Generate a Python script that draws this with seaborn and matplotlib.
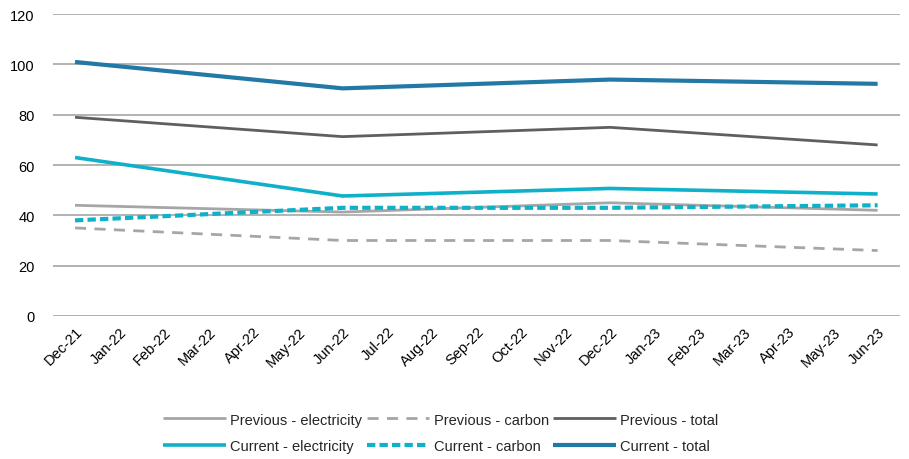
import matplotlib
matplotlib.use("Agg")
import matplotlib.pyplot as plt
import seaborn as sns
import pandas as pd

# Monthly axis labels
months = ["Dec-21", "Jan-22", "Feb-22", "Mar-22", "Apr-22", "May-22", "Jun-22",
          "Jul-22", "Aug-22", "Sep-22", "Oct-22", "Nov-22", "Dec-22", "Jan-23",
          "Feb-23", "Mar-23", "Apr-23", "May-23", "Jun-23"]

# Observations are half-yearly
obs_months = ["Dec-21", "Jun-22", "Dec-22", "Jun-23"]

prev_electricity = [44, 41.3, 45, 42]
prev_carbon = [35, 30, 30, 26]
prev_total = [79, 71.3, 75, 68]
curr_electricity = [63, 47.7, 50.7, 48.5]
curr_carbon = [38, 43, 43, 44]
curr_total = [101, 90.5, 94, 92.3]

sns.set_theme(style="white")
plt.rcParams["font.family"] = ["Liberation Sans", "DejaVu Sans"]

fig, ax = plt.subplots(figsize=(9.09, 4.60), dpi=100)
fig.subplots_adjust(left=0.058, right=0.99, top=0.967, bottom=0.311)

x_pos = [months.index(m) for m in obs_months]

series = [
    ("Previous - electricity", prev_electricity, "#A6A6A6", 2.0, None),
    ("Previous - carbon", prev_carbon, "#A6A6A6", 2.0, (4, 3)),
    ("Previous - total", prev_total, "#5F5F5F", 2.0, None),
    ("Current - electricity", curr_electricity, "#0FB1C8", 2.6, None),
    ("Current - carbon", curr_carbon, "#0FB1C8", 3.0, (2, 1)),
    ("Current - total", curr_total, "#2279A6", 3.0, None),
]

handles = {}
for name, vals, color, lw, dash in series:
    df = pd.DataFrame({"x": x_pos, "y": vals})
    sns.lineplot(data=df, x="x", y="y", ax=ax, color=color, linewidth=lw,
                 label=name, legend=False)
    line = ax.lines[-1]
    if dash is not None:
        line.set_dashes(dash)
    line.set_solid_capstyle("butt")
    line.set_dash_capstyle("butt")
    handles[name] = line

ax.set_xlim(-0.5, len(months) - 0.5)
ax.set_ylim(0, 120)
ax.set_yticks(range(0, 121, 20))
ax.set_xticks(range(len(months)))
ax.set_xticklabels(months, rotation=45, ha="right", rotation_mode="anchor")
ax.set_xlabel("")
ax.set_ylabel("")
ax.tick_params(axis="both", length=0, labelsize=10.5, colors="#000000")
ax.tick_params(axis="x", pad=6)
ax.tick_params(axis="y", pad=13)

ax.grid(axis="y", color="#9E9E9E", linewidth=1.1)
ax.grid(axis="x", visible=False)
ax.set_axisbelow(True)
for s in ["top", "right", "left", "bottom"]:
    ax.spines[s].set_visible(False)
ax.axhline(0, color="#D9D9D9", linewidth=1.0, zorder=0)

order = ["Previous - electricity", "Current - electricity",
         "Previous - carbon", "Current - carbon",
         "Previous - total", "Current - total"]
fig.legend([handles[k] for k in order], order, loc="center",
           bbox_to_anchor=(0.485, 0.057), ncol=3, frameon=False,
           fontsize=10.5, handlelength=4.3, columnspacing=0.3,
           handletextpad=0.3, labelspacing=0.85)

fig.savefig("out.png", dpi=100)
